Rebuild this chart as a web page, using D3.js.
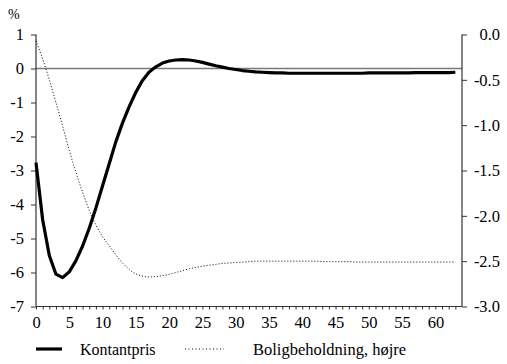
<!DOCTYPE html>
<html>
<head>
<meta charset="utf-8">
<script src="https://cdn.jsdelivr.net/npm/d3@7"></script>
<style>
  html, body { margin: 0; padding: 0; background: #fff; }
</style>
</head>
<body>
<svg id="chart" width="507" height="364"></svg>
<script>
// Quarters after the shock
const quarters = d3.range(0, 64);

// Kontantpris, percent deviation (left axis)
const kontantpris = [
  -2.77, -4.45, -5.5, -6.05, -6.15, -5.98, -5.65, -5.22, -4.7, -4.1,
  -3.45, -2.8, -2.15, -1.6, -1.12, -0.7, -0.35, -0.1, 0.05, 0.16,
  0.22, 0.25, 0.26, 0.25, 0.22, 0.18, 0.13, 0.08, 0.04, 0.0,
  -0.03, -0.06, -0.08, -0.1, -0.11, -0.12, -0.13, -0.13, -0.14, -0.14,
  -0.14, -0.14, -0.14, -0.14, -0.14, -0.14, -0.14, -0.14, -0.14, -0.14,
  -0.13, -0.13, -0.13, -0.13, -0.13, -0.13, -0.13, -0.12, -0.12, -0.12,
  -0.12, -0.12, -0.12, -0.11
];

// Boligbeholdning, percent deviation (right axis)
const boligbeholdning = [
  -0.07, -0.27, -0.5, -0.75, -1.01, -1.28, -1.52, -1.74, -1.94, -2.1,
  -2.23, -2.33, -2.43, -2.52, -2.59, -2.64, -2.665, -2.675, -2.67, -2.66,
  -2.645, -2.625, -2.605, -2.585, -2.57, -2.555, -2.545, -2.535, -2.525, -2.52,
  -2.515, -2.51, -2.505, -2.5, -2.5, -2.5, -2.5, -2.5, -2.5, -2.5,
  -2.5, -2.5, -2.5, -2.505, -2.505, -2.505, -2.505, -2.505, -2.51, -2.51,
  -2.51, -2.51, -2.51, -2.51, -2.51, -2.51, -2.51, -2.51, -2.51, -2.51,
  -2.51, -2.51, -2.51, -2.51
];

const leftTicks = [1, 0, -1, -2, -3, -4, -5, -6, -7];
const rightTicks = [0.0, -0.5, -1.0, -1.5, -2.0, -2.5, -3.0];
const xLabelTicks = d3.range(0, 61, 5);
const xMinorTicks = d3.range(0, 64, 1);

const seriesNames = ["Kontantpris", "Boligbeholdning, højre"];

const svg = d3.select("#chart");
const plot = { left: 36, right: 462, top: 34.5, bottom: 306.5 };

const x = d3.scaleLinear().domain([0, 64]).range([plot.left, plot.right]);
const yL = d3.scaleLinear().domain([-7, 1]).range([plot.bottom, plot.top]);
const yR = d3.scaleLinear().domain([-3, 0]).range([plot.bottom, plot.top]);

const axisColor = "#333";
const fontSize = 16;
const tickFontSize = 16.5;
const fontStyle = "font-family: 'Liberation Serif'";

// zero line (left scale)
svg.append("line")
  .attr("x1", plot.left).attr("x2", plot.right)
  .attr("y1", yL(0)).attr("y2", yL(0))
  .attr("stroke", "#7a7a7a").attr("stroke-width", 1.3);

// left axis
const gL = svg.append("g")
  .attr("transform", `translate(${plot.left},0)`)
  .call(d3.axisLeft(yL).tickValues(leftTicks).tickSize(5).tickPadding(7)
    .tickFormat(d => d3.format("d")(d).replace("−", "-")));

// right axis, labels right-aligned
const gR = svg.append("g")
  .attr("transform", `translate(${plot.right},0)`)
  .call(d3.axisRight(yR).tickValues(rightTicks).tickSize(5).tickPadding(5)
    .tickFormat(d => d3.format(".1f")(d).replace("−", "-")));
gR.selectAll(".tick text").attr("text-anchor", "end").attr("x", 38);

// bottom axis: minor ticks every quarter, labels every 5
const gB = svg.append("g")
  .attr("transform", `translate(0,${plot.bottom})`)
  .call(d3.axisBottom(x).tickValues(xMinorTicks).tickSize(3).tickFormat(""));
const gBL = svg.append("g")
  .attr("transform", `translate(0,${plot.bottom})`)
  .call(d3.axisBottom(x).tickValues(xLabelTicks).tickSize(0).tickPadding(10));
gBL.select(".domain").remove();

[gL, gR, gB].forEach(g => {
  g.select(".domain").attr("stroke", axisColor).attr("stroke-width", 1.2);
  g.selectAll(".tick line").attr("stroke", axisColor).attr("stroke-width", 1);
});
[gL, gR, gBL].forEach(g => {
  g.attr("font-family", null);
  g.selectAll(".tick text")
    .attr("style", fontStyle)
    .attr("font-size", tickFontSize).attr("fill", "#000");
});
gL.select(".domain").attr("d", `M0,${plot.top}V${plot.bottom}`);
gR.select(".domain").attr("d", `M0,${plot.top}V${plot.bottom}`);
gB.select(".domain").attr("d", `M${plot.left},0H${plot.right}`);

// unit label
svg.append("text")
  .attr("x", 8).attr("y", 19)
  .attr("style", fontStyle)
  .attr("font-size", fontSize - 2).text("%");

// series
const lineL = d3.line().x((d, i) => x(quarters[i])).y(d => yL(d));
const lineR = d3.line().x((d, i) => x(quarters[i])).y(d => yR(d)).curve(d3.curveMonotoneX);

svg.append("path").datum(boligbeholdning)
  .attr("d", lineR).attr("fill", "none")
  .attr("stroke", "#000").attr("stroke-width", 1)
  .attr("stroke-dasharray", "1,2");

svg.append("path").datum(kontantpris)
  .attr("d", lineL).attr("fill", "none")
  .attr("stroke", "#000").attr("stroke-width", 3.2)
  .attr("stroke-linejoin", "round");

// legend
const legY = 349;
svg.append("line").attr("x1", 36).attr("x2", 62).attr("y1", legY).attr("y2", legY)
  .attr("stroke", "#000").attr("stroke-width", 3.2);
svg.append("text").attr("x", 80).attr("y", legY + 6)
  .attr("style", fontStyle)
  .attr("font-size", fontSize).text(seriesNames[0]);
svg.append("line").attr("x1", 185).attr("x2", 224).attr("y1", legY).attr("y2", legY)
  .attr("stroke", "#000").attr("stroke-width", 1).attr("stroke-dasharray", "1,2.5");
svg.append("text").attr("x", 253).attr("y", legY + 6)
  .attr("style", fontStyle)
  .attr("font-size", fontSize + 0.5).text(seriesNames[1]);
</script>
</body>
</html>
